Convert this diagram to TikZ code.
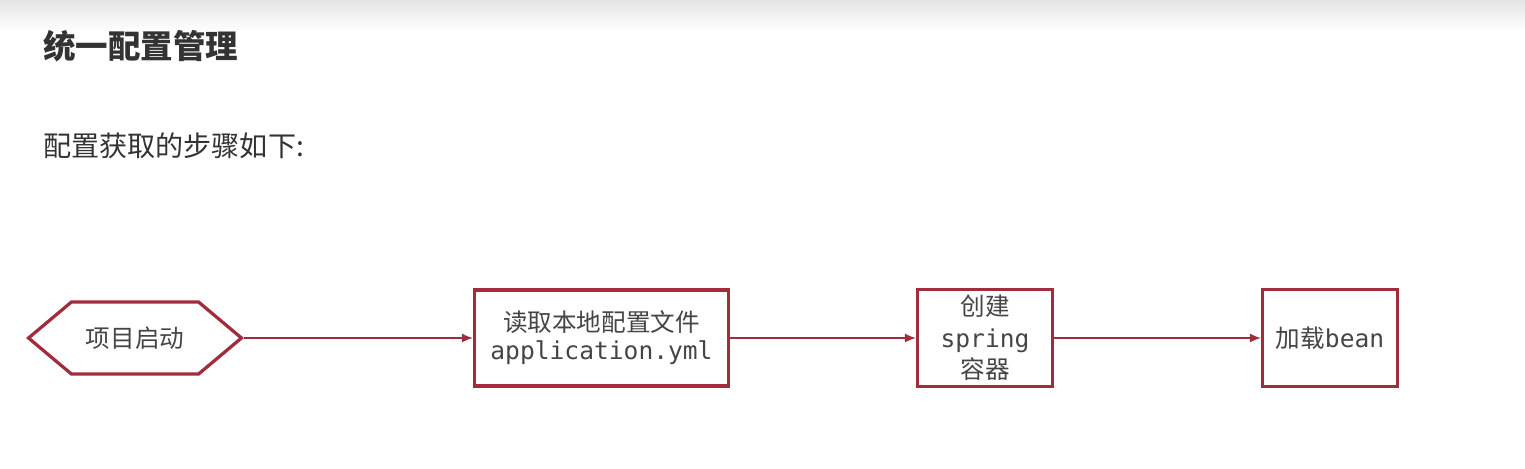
\documentclass[tikz,border=0pt]{standalone}
\usepackage{fontspec}
\newfontfamily\cjk{Noto Sans CJK SC}
\setmonofont{DejaVu Sans Mono}
\usepackage{tikz}
\usetikzlibrary{shapes.symbols, positioning, arrows.meta}

\definecolor{flowred}{HTML}{A02C3C}
\definecolor{inktext}{HTML}{333333}
\definecolor{boxtext}{HTML}{454545}

\tikzset{
    stepbox/.style={draw=flowred, line width=0.065cm, fill=white, align=center,
        text=boxtext, font=\cjk\fontsize{14}{18}\selectfont, inner sep=0pt},
    startbox/.style={stepbox, shape=signal, signal to=west and east,
        signal pointer angle=80},
    flowarrow/.style={draw=flowred, line width=0.8pt,
        -{Latex[length=2.2mm, width=1.8mm]}}
}

\begin{document}
\begin{tikzpicture}[x=0.02cm, y=-0.02cm]

    % page and the grey band at the top
    \useasboundingbox (0,0) rectangle (1525,468);
    \fill[white] (0,0) rectangle (1525,468);
    \shade[top color=black!10, bottom color=white] (0,0) rectangle (1525,32);

    % Headings
    \node[anchor=west, text=inktext, font=\cjk\bfseries\fontsize{18.5}{22}\selectfont]
        (title) at (37,46) {统一配置管理};
    \node[anchor=west, text=inktext, font=\cjk\fontsize{16}{20}\selectfont]
        (intro) at (37,146) {配置获取的步骤如下:};

    % Start of the flow
    \node[startbox, minimum width=4.26cm, minimum height=1.44cm]
        (start) at (135,338) {项目启动};

    % Steps
    \node[stepbox, minimum width=5.08cm, minimum height=1.92cm]
        (readcfg) at (601.5,338) {读取本地配置文件\\[-2pt]\ttfamily application.yml};
    \node[stepbox, minimum width=2.70cm, minimum height=1.94cm]
        (spring) at (985,338) {创建\\\ttfamily spring\\容器};
    \node[stepbox, minimum width=2.70cm, minimum height=1.94cm]
        (loadbean) at (1330,338) {加载{\ttfamily bean}};

    % Arrows between the steps
    \draw[flowarrow] (start.east) -- (readcfg.west);
    \draw[flowarrow] (readcfg.east) -- (spring.west);
    \draw[flowarrow] (spring.east) -- (loadbean.west);

\end{tikzpicture}
\end{document}
